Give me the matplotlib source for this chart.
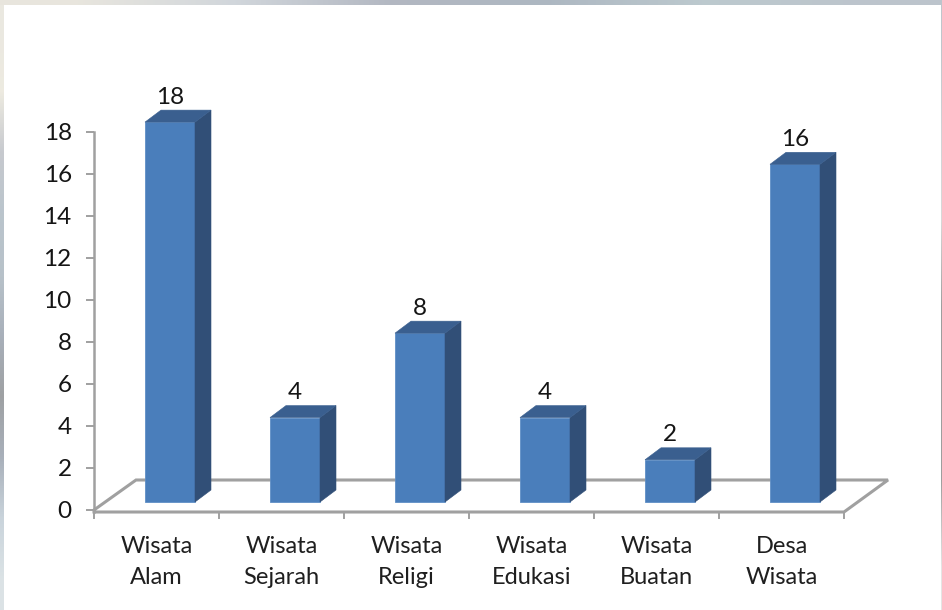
import matplotlib
matplotlib.use("Agg")
import matplotlib.pyplot as plt
from matplotlib.patches import Polygon
import numpy as np

categories = ["Wisata\nAlam", "Wisata\nSejarah", "Wisata\nReligi", "Wisata\nEdukasi", "Wisata\nBuatan", "Desa\nWisata"]
values = [18, 4, 8, 4, 2, 16]
y_ticks = list(range(0, 20, 2))

W, H = 942, 610
plt.rcParams['font.family'] = ['Lato', 'DejaVu Sans']
fig = plt.figure(figsize=(W / 100, H / 100), dpi=100, facecolor="white")

# slide background strips
bg = fig.add_axes([0, 0, 1, 1], zorder=0)
bg.axis("off")
left_cols = np.array([[0.92, 0.91, 0.88], [0.93, 0.92, 0.88], [0.78, 0.79, 0.81], [0.73, 0.77, 0.80],
                      [0.72, 0.76, 0.79], [0.66, 0.69, 0.73], [0.62, 0.63, 0.64], [0.66, 0.69, 0.73],
                      [0.79, 0.83, 0.86], [0.86, 0.89, 0.90]])
bg.imshow(left_cols[:, None, :], extent=[0, 4, H, 0], aspect="auto", interpolation="bilinear", zorder=1)
top_cols = np.array([[[0.91, 0.90, 0.87], [0.82, 0.84, 0.86], [0.70, 0.72, 0.76], [0.68, 0.72, 0.76], [0.74, 0.79, 0.81], [0.74, 0.77, 0.80]]])
bg.imshow(top_cols, extent=[0, W, 5, 0], aspect="auto", interpolation="bilinear", zorder=1)
right_cols = np.array([[0.75, 0.78, 0.80], [0.82, 0.83, 0.84], [0.85, 0.85, 0.85], [0.62, 0.62, 0.62], [0.62, 0.62, 0.62], [0.62, 0.62, 0.62], [0.90, 0.90, 0.90]])
bg.imshow(right_cols[:, None, :], extent=[940.5, 942, H, 5], aspect="auto", interpolation="bilinear", zorder=1)
bg.set_xlim(0, W); bg.set_ylim(H, 0)

AX_L, AX_R, AX_T, AX_B = 94, 844, 132, 510
ax = fig.add_axes([AX_L / W, 1 - AX_B / H, (AX_R - AX_L) / W, (AX_B - AX_T) / H], zorder=2)
ax.patch.set_alpha(0)
ax.set_xlim(-0.5, 5.5)
ax.set_ylim(0, 18)

px_x = 6 / (AX_R - AX_L)          # data units per pixel, x
px_y = 18 / (AX_B - AX_T)         # data units per pixel, y

grey = "#a0a0a0"
for s in ("top", "right"):
    ax.spines[s].set_visible(False)
ax.spines["left"].set_color(grey); ax.spines["left"].set_linewidth(1.8)
ax.spines["bottom"].set_visible(False)

ax.set_yticks(y_ticks)
ax.tick_params(axis="y", length=6, width=1.4, color=grey, labelsize=17.5, pad=10, labelcolor="#151515")
ax.set_xticks([])

# floor
front_y = -2 * px_y
back_y = 30 * px_y
depth_x = 42 * px_x
floor = [(-0.5, front_y), (5.5, front_y), (5.5 + 44 * px_x, back_y), (-0.5 + depth_x, back_y), (-0.5, 0)]
ax.plot(*zip(*floor), color=grey, lw=2.2, clip_on=False, zorder=1, solid_joinstyle="miter")
ax.plot([-0.5, -0.5], [front_y, 0], color=grey, lw=1.8, clip_on=False, zorder=1)
for i in range(7):
    ax.plot([i - 0.5, i - 0.5], [front_y, front_y - 6 * px_y], color=grey, lw=1.4, clip_on=False, zorder=1)

# 3-D columns
bw = 50 * px_x
dx, dy = 16 * px_x, 12 * px_y
x0 = 13.5 * px_x                  # shift of the column on the floor
base = 8 * px_y
stretch = 1.005                   # column height per axis unit
for i, v in enumerate(values):
    cx = i + x0
    h = v * stretch
    top = h + base
    l, r = cx - bw / 2, cx + bw / 2
    ax.bar(cx, h, width=bw, bottom=base, color="#4a7ebb", edgecolor="#5f8fc6", linewidth=0.6, zorder=3, clip_on=False)
    ax.add_patch(Polygon([(r, base), (r + dx, base + dy), (r + dx, top + dy), (r, top)],
                         closed=True, fc="#314f77", ec="#314f77", lw=0.4, zorder=3, clip_on=False))
    ax.add_patch(Polygon([(l, top), (l + dx, top + dy), (r + dx, top + dy), (r, top)],
                         closed=True, fc="#3a5f8f", ec="#3a5f8f", lw=0.4, zorder=3, clip_on=False))
    ax.text(cx, top + dy + 13 * px_y, str(v), ha="center", va="center", fontsize=17.5, color="#151515", clip_on=False)

# category labels
for i, c in enumerate(categories):
    ax.text(i, -26 * px_y, c, ha="center", va="top", fontsize=17, color="#1f1f1f", linespacing=1.57, clip_on=False)

fig.savefig("out.png", dpi=100)
